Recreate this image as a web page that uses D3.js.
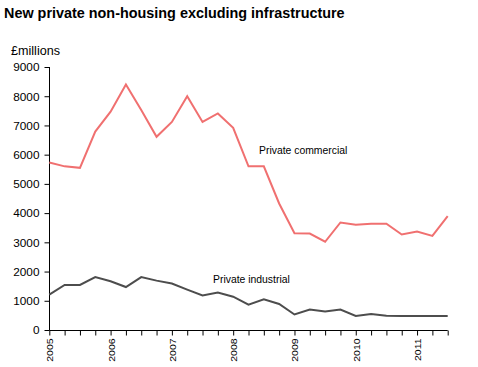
<!DOCTYPE html>
<html><head><meta charset="utf-8">
<script src="https://cdn.jsdelivr.net/npm/d3@7"></script>
<style>body{margin:0;background:#fff}svg{display:block;font-family:"Liberation Sans",Arial,sans-serif}</style>
</head><body><svg id="c" width="478" height="367"></svg>
<script>
const quarters = ["2005Q1","2005Q2","2005Q3","2005Q4","2006Q1","2006Q2","2006Q3","2006Q4","2007Q1","2007Q2","2007Q3","2007Q4","2008Q1","2008Q2","2008Q3","2008Q4","2009Q1","2009Q2","2009Q3","2009Q4","2010Q1","2010Q2","2010Q3","2010Q4","2011Q1","2011Q2","2011Q3"];
const commercial = [5730,5600,5550,6790,7470,8400,7530,6610,7120,8000,7120,7410,6920,5600,5600,4330,3310,3300,3020,3680,3600,3640,3640,3270,3370,3220,3900];
const industrial = [1210,1540,1540,1810,1670,1470,1810,1690,1590,1380,1180,1280,1140,870,1050,890,530,700,630,700,480,550,490,480,480,480,480];
const yTicks = [0,1000,2000,3000,4000,5000,6000,7000,8000,9000];
const yearLabels = ["2005","2006","2007","2008","2009","2010","2011"];

const svg = d3.select("#c");
const x = d3.scalePoint().domain(quarters).range([49.3, 447.7]);
const y = d3.scaleLinear().domain([0,9000]).range([330, 67]);

svg.append("text").attr("x",4).attr("y",18).attr("font-weight","bold").attr("font-size",14.4).text("New private non-housing excluding infrastructure");
svg.append("text").attr("x",11).attr("y",55).attr("font-size",12.6).text("£millions");

const ya = svg.append("g").attr("transform","translate(49.5,0)")
  .call(d3.axisLeft(y).tickValues(yTicks).tickSize(5).tickPadding(5).tickFormat(d3.format("d")));
ya.selectAll("text").attr("font-size",11.8).attr("fill","#000").attr("font-family","Liberation Sans, Arial, sans-serif");
ya.selectAll("line,path").attr("stroke","#000");
ya.select(".domain").attr("d","M0,67V330");

const xa = svg.append("g").attr("transform","translate(0,330.5)")
  .call(d3.axisBottom(x).tickSize(5).tickFormat(d => d.endsWith("Q1") && yearLabels.includes(d.slice(0,4)) ? d.slice(0,4) : ""));
xa.select(".domain").attr("d","M49.3,0H447.7").attr("stroke","#000");
xa.selectAll("line").attr("stroke","#000");
xa.selectAll("text").attr("font-size",8.6).attr("fill","#000").attr("font-family","Liberation Sans, Arial, sans-serif")
  .attr("transform","rotate(-90) scale(1.22,1)").attr("text-anchor","end").attr("x",-6.5).attr("y",0.5).attr("dy","0.35em");

const line = d3.line().x((d,i)=>x(quarters[i])).y(d=>y(d));
svg.append("path").datum(commercial).attr("d",line).attr("fill","none").attr("stroke","#F07070").attr("stroke-width",2);
svg.append("path").datum(industrial).attr("d",line).attr("fill","none").attr("stroke","#4D4D4D").attr("stroke-width",2);

svg.append("text").attr("x",259).attr("y",154).attr("font-size",10.4).text("Private commercial");
svg.append("text").attr("x",213).attr("y",283).attr("font-size",10.4).text("Private industrial");
</script></body></html>
